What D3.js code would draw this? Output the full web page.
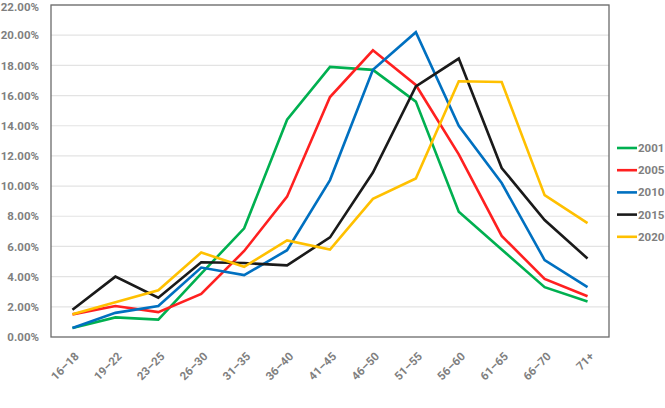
<!DOCTYPE html>
<html>
<head>
<meta charset="utf-8">
<script src="https://cdn.jsdelivr.net/npm/d3@7"></script>
<style>
  body { margin: 0; background: #fff; }
  text { font-family: Roboto, "Open Sans", sans-serif; font-weight: bold; fill: #7f7f7f; }
</style>
</head>
<body>
<svg id="viz"></svg>
<script>
/* data, % share per age band */
var ageBands = ["16–18", "19–22", "23–25", "26–30", "31–35", "36–40", "41–45",
	"46–50", "51–55", "56–60", "61–65", "66–70", "71+"];
var years = ["2001", "2005", "2010", "2015", "2020"];
var colors = ["#00b050", "#ff2020", "#0070c0", "#1a1a1a", "#ffc000"];

var v2001 = [0.6, 1.3, 1.15, 4.2, 7.2, 14.4, 17.9, 17.7, 15.6, 8.3, 5.8, 3.3, 2.35];
var v2005 = [1.5, 2.05, 1.65, 2.85, 5.7, 9.3, 15.9, 19.0, 16.7, 12.1, 6.7, 3.85, 2.7];
var v2010 = [0.6, 1.6, 2.05, 4.6, 4.1, 5.75, 10.4, 17.7, 20.2, 14.0, 10.2, 5.1, 3.3];
var v2015 = [1.8, 4.0, 2.6, 4.95, 4.9, 4.75, 6.6, 10.9, 16.6, 18.45, 11.2, 7.75, 5.2];
var v2020 = [1.5, 2.3, 3.1, 5.6, 4.65, 6.4, 5.8, 9.15, 10.5, 16.95, 16.9, 9.4, 7.55];
var yTicks = [0, 2, 4, 6, 8, 10, 12, 14, 16, 18, 20, 22];

var seriesValues = [v2001, v2005, v2010, v2015, v2020];

/* create svg */
var margin = { top: 5, right: 56, bottom: 71, left: 51 },
	width = 665 - margin.left - margin.right,
	height = 408 - margin.top - margin.bottom;

var svg = d3.select('#viz')
		.attr('width', 665)
		.attr('height', 408);
var g = svg.append('g')
		.attr('transform', 'translate(' + margin.left + ',' + margin.top + ')');

var x = d3.scaleBand()
	.domain(ageBands)
	.range([0, width]);

var y = d3.scaleLinear()
	.domain([0, 22])
	.range([height, 0]);

// gridlines
g.append('g')
	.selectAll('line')
	.data(yTicks.slice(1))
	.enter().append('line')
	.attr('x1', 0)
	.attr('x2', width)
	.attr('y1', function(d){ return y(d); })
	.attr('y2', function(d){ return y(d); })
	.attr('stroke', '#e3e3e3')
	.attr('stroke-width', 1.2);

// y axis labels
var yAxis = d3.axisLeft(y)
	.tickValues(yTicks)
	.tickSize(0)
	.tickPadding(12)
	.tickFormat(function(d){ return d.toFixed(2) + '%'; });

g.append('g')
	.attr('class', 'y_axis')
	.call(yAxis)
	.call(function(a){ a.select('.domain').remove(); })
	.selectAll('text')
	.style('font-size', '11.5px')
	.attr('fill', '#7f7f7f')
	// top label sits at the very edge, keep it inside the page
	.attr('dy', function(d){ return d === 22 ? '0.5em' : '0.32em'; });

// x axis labels, rotated
var xAxis = d3.axisBottom(x)
	.tickSize(0);

g.append('g')
	.attr('class', 'x_axis')
	.attr('transform', 'translate(0,' + height + ')')
	.call(xAxis)
	.call(function(a){ a.select('.domain').remove(); })
	.selectAll('text')
	.style('font-size', '11.5px')
	.attr('fill', '#7f7f7f')
	.attr('text-anchor', 'end')
	.attr('dy', null)
	.attr('transform', 'translate(5,18) rotate(-45)');

// plot border
g.append('rect')
	.attr('x', 0)
	.attr('y', 0)
	.attr('width', width)
	.attr('height', height)
	.attr('fill', 'none')
	.attr('stroke', '#6b6b6b')
	.attr('stroke-width', 1.3);

var line = d3.line()
	.x(function(d, i){ return x(ageBands[i]) + x.bandwidth() / 2; })
	.y(function(d){ return y(d); });

seriesValues.forEach(function(vals, k){
	g.append('path')
		.attr('d', line(vals))
		.attr('fill', 'none')
		.attr('stroke', colors[k])
		.attr('stroke-width', 2.6)
		.attr('stroke-linejoin', 'miter');
});

// legend
var legend = svg.append('g')
	.attr('transform', 'translate(617,148)');

var item = legend.selectAll('g')
	.data(years)
	.enter().append('g')
	.attr('transform', function(d, i){ return 'translate(0,' + (i * 22.2) + ')'; });

item.append('line')
	.attr('x1', 0)
	.attr('x2', 20)
	.attr('stroke', function(d, i){ return colors[i]; })
	.attr('stroke-width', 2.6);

item.append('text')
	.attr('x', 21)
	.attr('dy', '0.35em')
	.style('font-size', '11.5px')
	.text(function(d){ return d; });
</script>
</body>
</html>
